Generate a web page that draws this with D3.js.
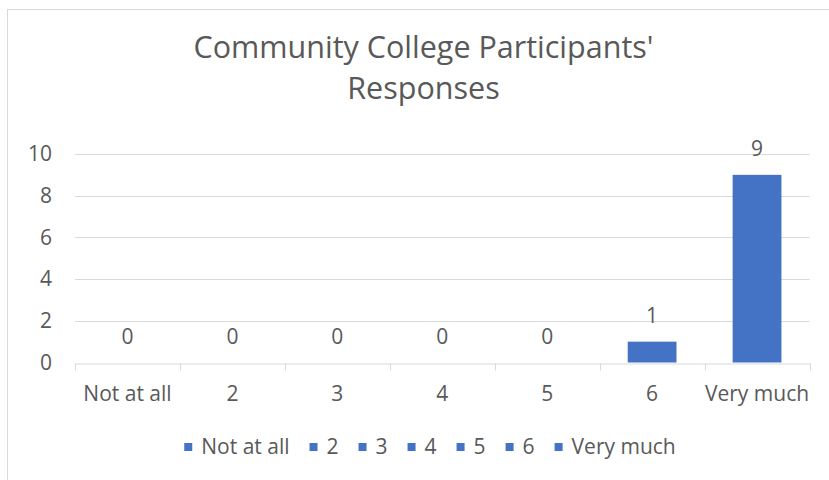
<!DOCTYPE html>
<html>
<head>
<meta charset="utf-8">
<script src="https://cdn.jsdelivr.net/npm/d3@7"></script>
<style>
  html, body { margin: 0; padding: 0; background: #ffffff; }
  svg { display: block; }
  text { font-family: "Open Sans", sans-serif; fill: #595959; }
</style>
</head>
<body>
<svg id="chart" width="829" height="480"></svg>
<script>
// Response categories and counts
const categories = ["Not at all", "2", "3", "4", "5", "6", "Very much"];
const counts = [0, 0, 0, 0, 0, 1, 9];
const yTicks = [0, 2, 4, 6, 8, 10];
const titleLines = ["Community College Participants'", "Responses"];

const barColor = "#4472C4";
const gridColor = "#D9D9D9";
const labelSize = "21px";

const svg = d3.select("#chart");
const plot = { left: 75, right: 809.5, top: 154, bottom: 362.5 };

// chart area frame
svg.append("rect")
  .attr("x", 7.5).attr("y", 9.5)
  .attr("width", 900).attr("height", 600)
  .attr("fill", "#fff").attr("stroke", gridColor).attr("stroke-width", 1);

// title, two lines
svg.append("g")
  .selectAll("text")
  .data(titleLines)
  .join("text")
  .attr("text-anchor", "middle")
  .attr("x", 423.5)
  .attr("y", (d, i) => 58 + i * 41)
  .style("font-size", "30.5px")
  .text(d => d);

const x = d3.scaleBand().domain(categories).range([plot.left, plot.right]).padding(0);
const y = d3.scaleLinear().domain([0, 10]).range([plot.bottom, plot.top]);

// gridlines
svg.append("g")
  .selectAll("line")
  .data(yTicks.filter(d => d !== 0))
  .join("line")
  .attr("x1", plot.left).attr("x2", plot.right)
  .attr("y1", d => Math.round(y(d)) + 0.5).attr("y2", d => Math.round(y(d)) + 0.5)
  .attr("stroke", gridColor).attr("stroke-width", 1);

// y axis labels
const yAxis = d3.axisLeft(y).tickValues(yTicks).tickSize(0).tickPadding(0);
const gy = svg.append("g").attr("transform", `translate(${plot.left - 23},0)`).call(yAxis);
gy.select(".domain").remove();
gy.selectAll("text").style("font-size", labelSize).attr("fill", "#595959").attr("font-family", null);

// bars
const gap = 1.15; // gap width relative to bar
const barW = x.bandwidth() / (1 + gap);
svg.append("g")
  .selectAll("rect")
  .data(categories.map((c, i) => ({ c, v: counts[i] })))
  .join("rect")
  .attr("x", d => x(d.c) + (x.bandwidth() - barW) / 2)
  .attr("width", barW)
  .attr("y", d => y(d.v))
  .attr("height", d => y(0) - y(d.v))
  .attr("fill", barColor);

// x axis
const xAxis = d3.axisBottom(x).tickSize(0).tickPadding(0);
const gx = svg.append("g").attr("transform", `translate(0,${Math.round(plot.bottom) + 0.5})`).call(xAxis);
gx.select(".domain").attr("stroke", gridColor);
gx.selectAll(".tick text").style("font-size", labelSize).attr("fill", "#595959")
  .attr("font-family", null).attr("dy", null).attr("y", 37);
// category boundary ticks
const bounds = categories.map(c => x(c)).concat([plot.right]);
gx.append("g").selectAll("line").data(bounds).join("line")
  .attr("x1", d => Math.round(d) + 0.5).attr("x2", d => Math.round(d) + 0.5)
  .attr("y1", 0).attr("y2", 7)
  .attr("stroke", gridColor);

// data labels
svg.append("g")
  .selectAll("text")
  .data(categories.map((c, i) => ({ c, v: counts[i] })))
  .join("text")
  .attr("x", d => x(d.c) + x.bandwidth() / 2)
  .attr("y", d => y(d.v) - 19)
  .attr("text-anchor", "middle")
  .style("font-size", labelSize)
  .text(d => d.v);

// legend
const legend = svg.append("g");
const items = legend.selectAll("g").data(categories).join("g");
items.append("rect").attr("width", 8).attr("height", 8).attr("y", -11).attr("fill", barColor);
items.append("text").attr("x", 17).attr("y", 0).style("font-size", labelSize).text(d => d);
let lx = 0;
items.each(function () {
  const g = d3.select(this);
  g.attr("transform", `translate(${lx},0)`);
  lx += 17 + g.select("text").node().getComputedTextLength() + 20;
});
const legendW = lx - 20;
legend.attr("transform", `translate(${430 - legendW / 2},454)`);
</script>
</body>
</html>
